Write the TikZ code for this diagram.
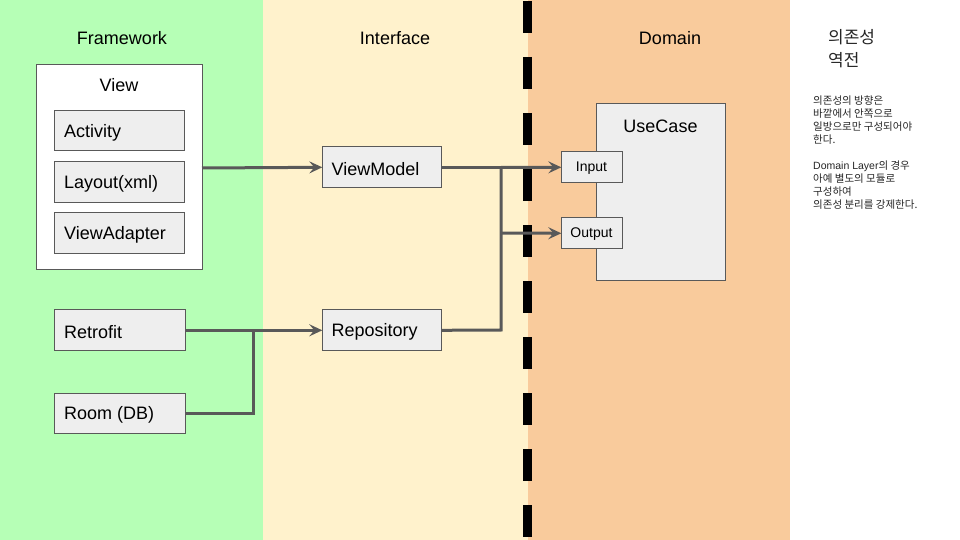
\documentclass[tikz,border=0pt]{standalone}
\usepackage{fontspec}
\setmainfont{Liberation Sans}
\newfontfamily\kr{Noto Sans CJK KR}
\usetikzlibrary{arrows.meta}
\definecolor{bggreen}{RGB}{182,255,182}
\definecolor{bgyellow}{RGB}{255,242,204}
\definecolor{bgorange}{RGB}{249,203,156}
\definecolor{boxfill}{RGB}{238,238,238}
\definecolor{edgegray}{RGB}{89,89,89}
\tikzset{
  box/.style={draw=edgegray, line width=1pt, fill=boxfill, anchor=north west, inner sep=0pt, text depth=0pt},
  inbox/.style={draw=edgegray, line width=1pt, fill=boxfill},
  lbl/.style={font=\fontsize{18}{20}\selectfont, inner sep=0pt},
  small/.style={font=\fontsize{14}{16}\selectfont, inner sep=0pt},
  conn/.style={draw=edgegray, line width=3pt},
  arr/.style={conn, -{Stealth[length=13pt, width=12pt, inset=5pt]}},
}
\begin{document}
\begin{tikzpicture}[x=1pt,y=-1pt]
\useasboundingbox (0,0) rectangle (960,540);
% backgrounds
\fill[bggreen] (0,0) rectangle (263,540);
\fill[bgyellow] (263,0) rectangle (527.5,540);
\fill[bgorange] (527.5,0) rectangle (790,540);
\fill[white] (790,0) rectangle (960,540);
% dashed separator
\draw[black, line width=8.5pt, dash pattern=on 32pt off 24pt] (527.5,1) -- (527.5,540);
% headings
\node[lbl] (hfw) at (122,38.5) {Framework};
\node[lbl] (hif) at (395,38.5) {Interface};
\node[lbl] (hdm) at (670,38.5) {Domain};
% View container
\draw[draw=edgegray, line width=1pt, fill=white] (36,64.5) rectangle (202,269);
\node[lbl] (viewlbl) at (119,85) {View};
\coordinate (viewout) at (202,168);
% inner boxes
\draw[inbox] (54.3,110.3) rectangle (184.3,151);
\node[lbl, anchor=west] (activity) at (64,133) {Activity};
\draw[inbox] (54.3,161.7) rectangle (184.3,202.3);
\node[lbl, anchor=west] (layout) at (64,184) {Layout(xml)};
\draw[inbox] (54.3,212.3) rectangle (184.3,253);
\node[lbl, anchor=west] (adapter) at (64,235) {ViewAdapter};
% Retrofit / Room
\node[box, minimum width=130.4pt, minimum height=41pt] (retrofit) at (54.3,309.3) {};
\node[lbl, anchor=west] (retrofitlbl) at (64,332) {Retrofit};
\node[box, minimum width=130.4pt, minimum height=40.6pt] (room) at (54.3,392.7) {};
\node[lbl, anchor=west] (roomlbl) at (64,415) {Room (DB)};
% ViewModel / Repository
\node[box, minimum width=118.4pt, minimum height=41pt] (viewmodel) at (322.3,146.3) {};
\node[lbl, anchor=west] (vmlbl) at (331.5,169) {ViewModel};
\node[box, minimum width=118.4pt, minimum height=41pt] (repository) at (322.3,309.3) {};
\node[lbl, anchor=west] (repolbl) at (331.5,332) {Repository};
% UseCase
\node[box, minimum width=129.6pt, minimum height=177pt] (usecase) at (595.7,103.3) {};
\node[lbl] (uclbl) at (660.5,126) {UseCase};
\node[box, minimum width=60.4pt, minimum height=31pt] (input) at (561.3,151.3) {};
\node[small] (inputlbl) at (591.5,168.5) {Input};
\node[box, minimum width=60.4pt, minimum height=31pt] (output) at (561.3,217.3) {};
\node[small] (outputlbl) at (591.5,234.5) {Output};
% connectors
\coordinate (trunktop) at (501,167.5);
\coordinate (trunkbot) at (501,330);
\coordinate (trunkout) at (501,233);
\coordinate (roomjoin) at (253,330);
\draw[arr] (viewout) -- (viewmodel.west);
\draw[arr] (retrofit.east) -- (repository.west);
\draw[conn] (room.east) -| (roomjoin);
\draw[conn] (viewmodel.east) -- (trunktop |- viewmodel.east);
\draw[conn] (repository.east) -- (trunkbot) -- (trunktop);
\draw[arr] (trunktop) -- (input.west);
\draw[arr] (trunkout) -- (output.west);
% Korean notes
\node[anchor=north west, inner sep=0pt, align=left, font=\kr\fontsize{17}{23}\selectfont, text=black!85] (title) at (828,29.5) {의존성\\역전};
\node[anchor=north west, inner sep=0pt, align=left, font=\kr\fontsize{10.5}{13}\selectfont, text=black!85] (note) at (813,96) {의존성의 방향은\\바깥에서 안쪽으로\\일방으로만 구성되어야\\한다.\\[13pt]{\fontspec{Liberation Sans}Domain Layer}의 경우\\아예 별도의 모듈로\\구성하여\\의존성 분리를 강제한다.};
\end{tikzpicture}
\end{document}
